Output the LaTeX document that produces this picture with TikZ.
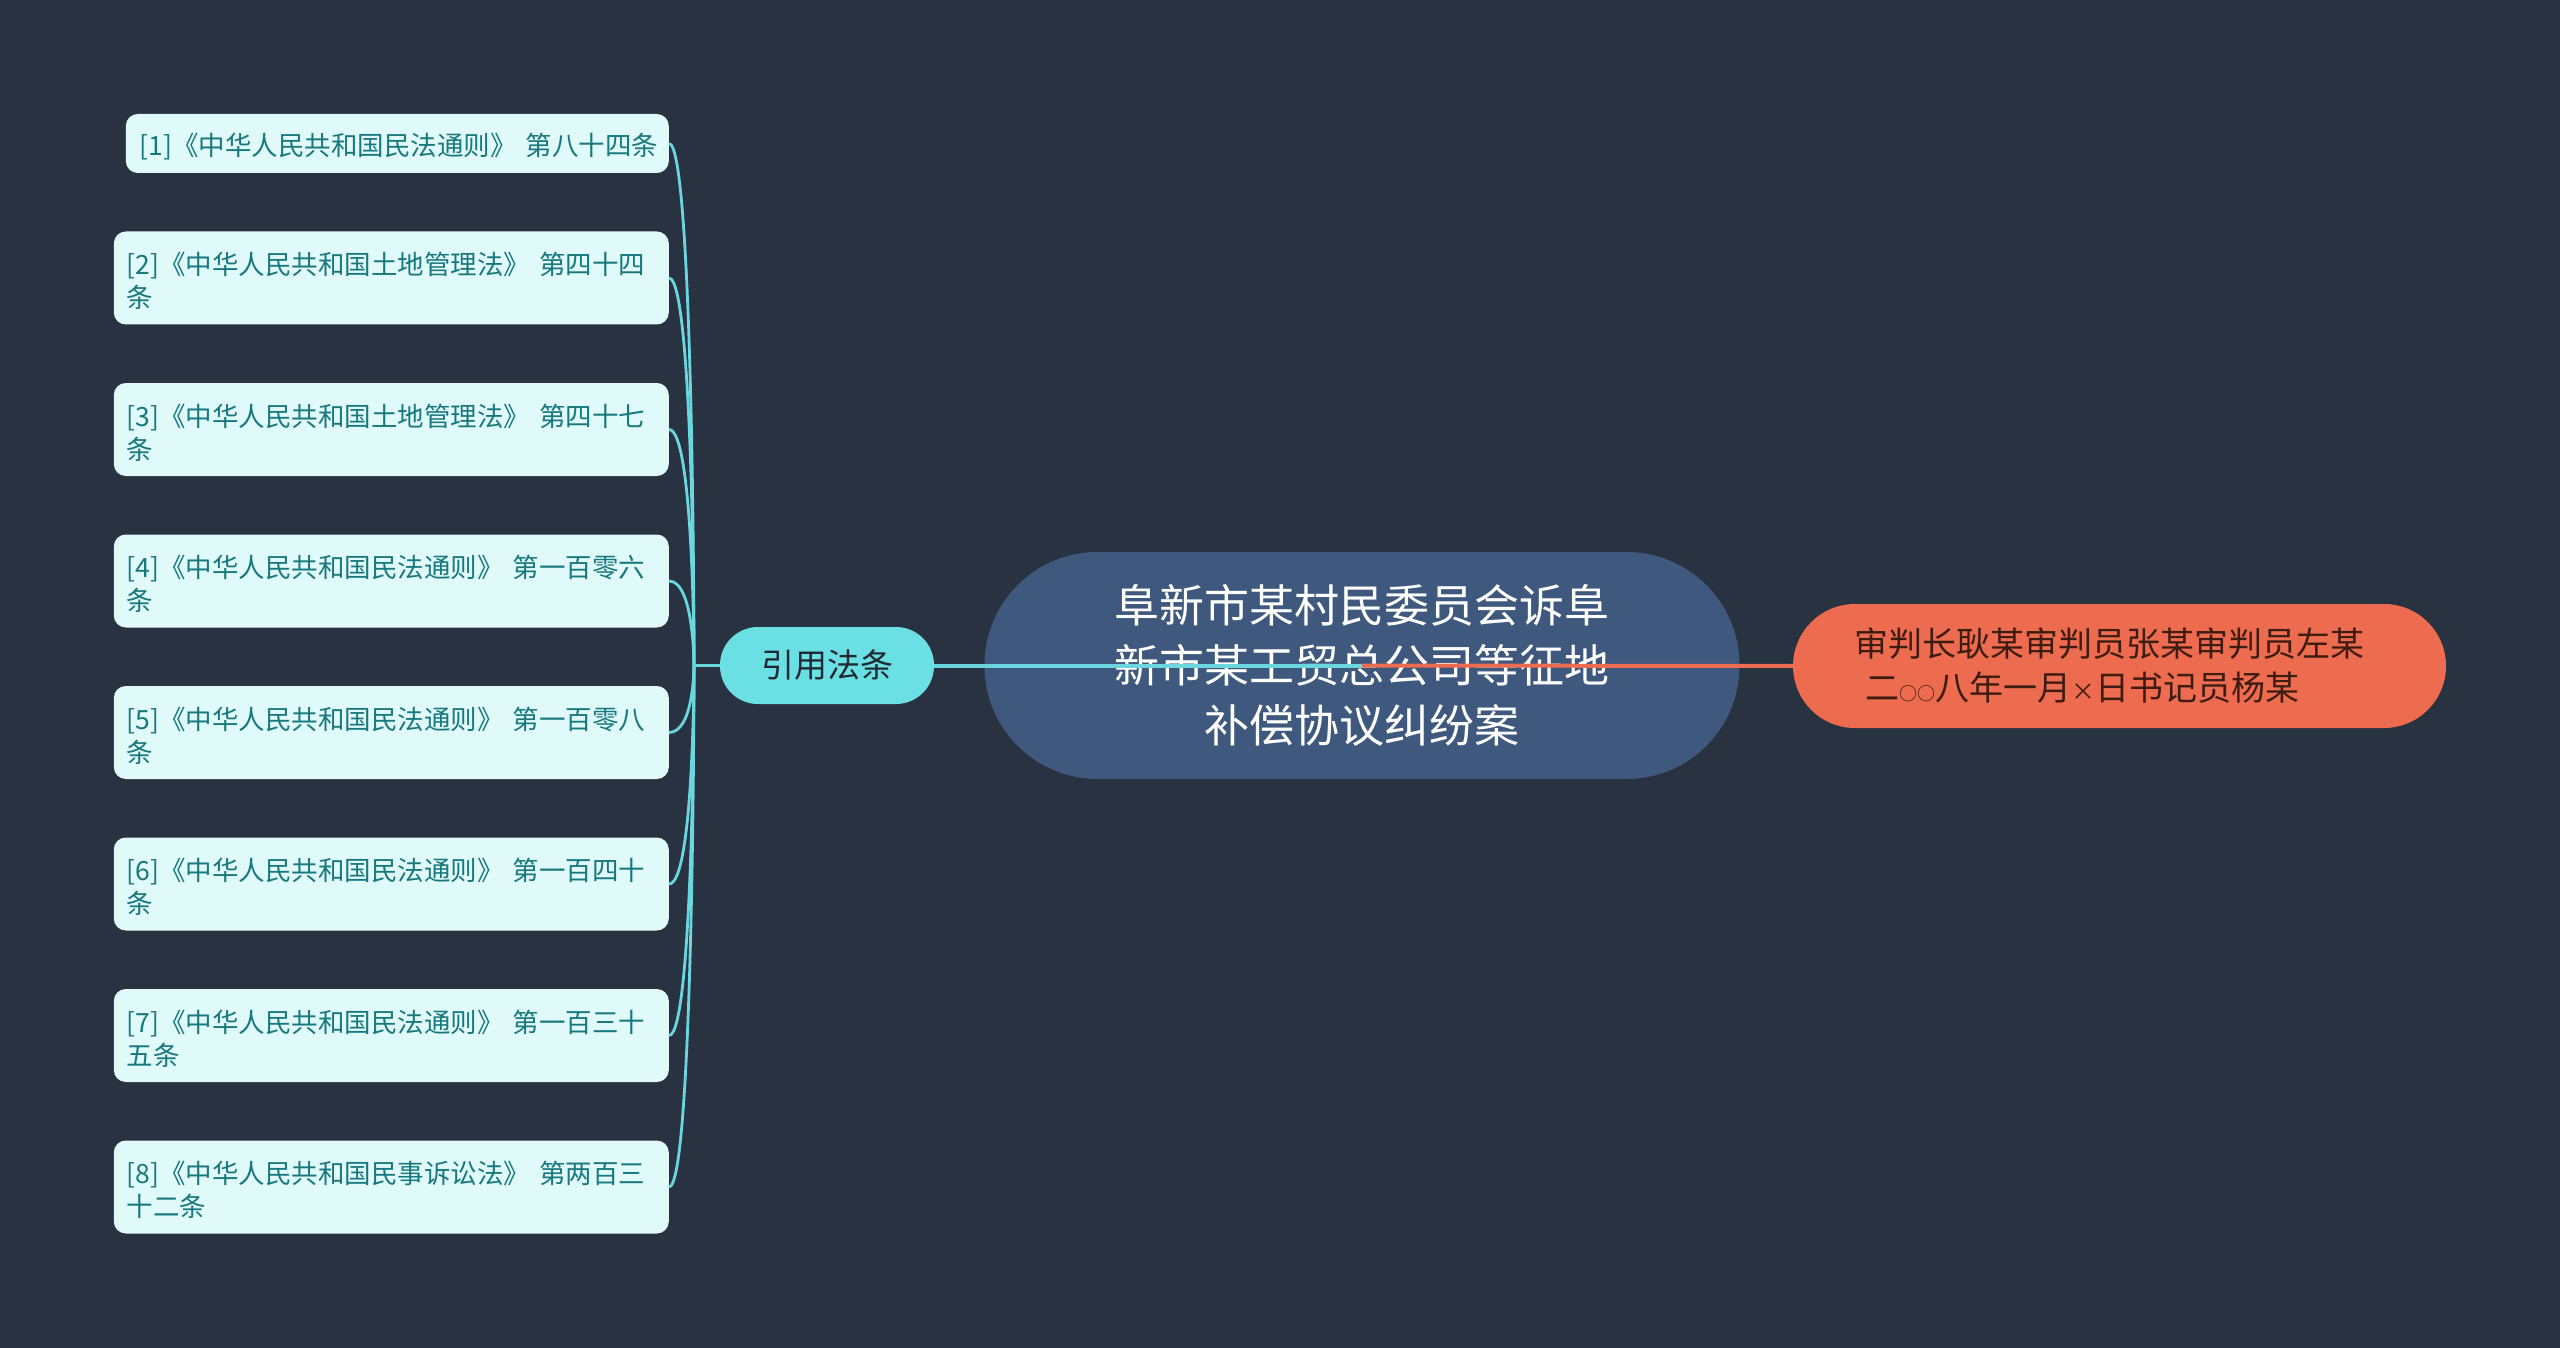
\documentclass[tikz,border=0pt]{standalone}
\usepackage{fontspec}
\setmainfont{Noto Sans CJK SC}
\definecolor{bg}{RGB}{41,50,65}
\definecolor{centerfill}{RGB}{62,88,126}
\definecolor{turq}{RGB}{106,224,228}
\definecolor{coral}{RGB}{237,107,78}
\definecolor{leaffill}{RGB}{224,249,249}
\definecolor{leaftext}{RGB}{23,120,126}
\definecolor{conncol}{RGB}{106,214,222}
\definecolor{darktext}{RGB}{32,40,50}
\definecolor{browntext}{RGB}{62,28,18}
\newcommand{\topstrut}{\rule{0pt}{29pt}}
\begin{document}
\begin{tikzpicture}[x=1pt,y=-1pt,
  leaf/.style={fill=leaffill, text=leaftext, rounded corners=12pt, anchor=east,
    minimum height=93pt, text width=529pt, inner xsep=13pt, inner ysep=0pt, align=left,
    font=\fontsize{26.5}{33}\selectfont},
  leafone/.style={leaf, minimum height=59pt, text width=515pt, inner xsep=14pt},
  conn/.style={draw=conncol, line width=2.8pt},
  mainlink/.style={line width=4pt},
]
\useasboundingbox (0,0) rectangle (2560,1348);
\fill[bg] (0,0) rectangle (2560,1348);

% central topic
\node[fill=centerfill, rounded corners=113pt, minimum width=755pt, minimum height=227pt,
  text=white, align=center, inner sep=0pt, font=\fontsize{45}{60}\selectfont]
  (center) at (1362,665.5) {阜新市某村民委员会诉阜\\新市某工贸总公司等征地\\补偿协议纠纷案};

% branch nodes
\node[fill=turq, rounded corners=38pt, minimum width=214pt, minimum height=77pt,
  text=darktext, inner sep=0pt, font=\fontsize{33}{40}\selectfont]
  (cite) at (827,665.5) {引用法条};
\node[fill=coral, rounded corners=62pt, minimum width=653pt, minimum height=124pt,
  text=browntext, inner sep=0pt, align=left, font=\fontsize{34}{44}\selectfont]
  (judge) at (2119.5,666) {审判长耿某审判员张某审判员左某\hspace*{20pt}\\\hspace*{11pt}二{\fontsize{18}{18}\selectfont ○○}八年一月{\fontsize{24}{24}\selectfont ×}日书记员杨某};

% main links (drawn over the central node)
\draw[conncol, mainlink] (cite.east) -- (center.center);
\draw[coral, mainlink] (center.center) -- (judge.west);

% leaves
\node[leafone] (l1) at (669,143.5) {\topstrut\mbox{[1]《中华人民共和国民法通则》 第八十四条}};
\node[leaf] (l2) at (669,278) {\topstrut\mbox{[2]《中华人民共和国土地管理法》 第四十四}\\条};
\node[leaf] (l3) at (669,429.5) {\topstrut\mbox{[3]《中华人民共和国土地管理法》 第四十七}\\条};
\node[leaf] (l4) at (669,581) {\topstrut\mbox{[4]《中华人民共和国民法通则》 第一百零六}\\条};
\node[leaf] (l5) at (669,732.5) {\topstrut\mbox{[5]《中华人民共和国民法通则》 第一百零八}\\条};
\node[leaf] (l6) at (669,884) {\topstrut\mbox{[6]《中华人民共和国民法通则》 第一百四十}\\条};
\node[leaf] (l7) at (669,1035.5) {\topstrut\mbox{[7]《中华人民共和国民法通则》 第一百三十}\\五条};
\node[leaf] (l8) at (669,1187) {\topstrut\mbox{[8]《中华人民共和国民事诉讼法》 第两百三}\\十二条};

% hub and connectors
\coordinate (hub) at (694,665.5);
\draw[conn] (hub) -- (cite.west);
\foreach \i in {1,...,8}{
  \draw[conn] (l\i.east) .. controls (hub |- l\i.east) and (hub) .. (hub);
}
\end{tikzpicture}
\end{document}
